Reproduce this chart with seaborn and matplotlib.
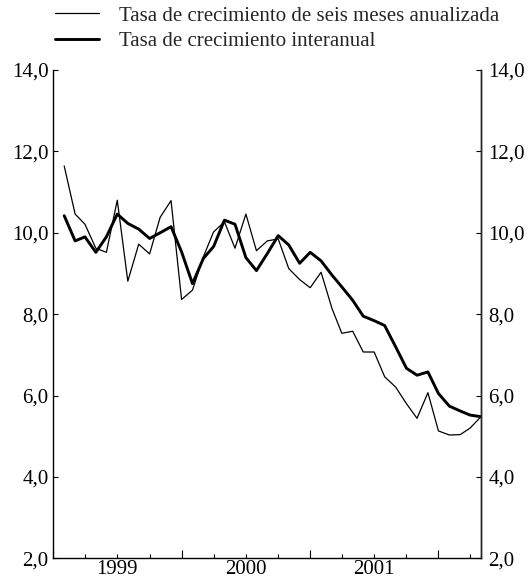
import numpy as np
import pandas as pd
import matplotlib
matplotlib.use("Agg")
import matplotlib.pyplot as plt
import matplotlib.dates as mdates
from matplotlib.ticker import FuncFormatter, FixedLocator, NullFormatter
from matplotlib.lines import Line2D
import seaborn as sns

# Monthly observations, January 1999 to April 2002
months = pd.date_range("1999-01-01", "2002-04-01", freq="MS")

# Six-month annualised growth rate (%)
six_month_annualised = [
    11.64, 10.46, 10.21, 9.62, 9.52, 10.80, 8.81, 9.72, 9.48, 10.38,
    10.79, 8.36, 8.59, 9.41, 10.02, 10.27, 9.62, 10.46, 9.56, 9.80,
    9.85, 9.12, 8.85, 8.65, 9.03, 8.14, 7.53, 7.58, 7.07, 7.07,
    6.46, 6.21, 5.80, 5.44, 6.07, 5.13, 5.03, 5.04, 5.20, 5.48,
]

# Year-on-year growth rate (%)
year_on_year = [
    10.42, 9.80, 9.90, 9.52, 9.90, 10.46, 10.23, 10.09, 9.86, 10.00,
    10.15, 9.53, 8.75, 9.37, 9.66, 10.31, 10.21, 9.39, 9.07, 9.49,
    9.93, 9.70, 9.25, 9.52, 9.31, 8.96, 8.67, 8.34, 7.95, 7.84,
    7.72, 7.20, 6.67, 6.50, 6.58, 6.05, 5.74, 5.62, 5.52, 5.48,
]

series_labels = [
    "Tasa de crecimiento de seis meses anualizada",
    "Tasa de crecimiento interanual",
]
y_ticks = [2, 4, 6, 8, 10, 12, 14]

df = pd.DataFrame({"fecha": months,
                   "seis": six_month_annualised,
                   "inter": year_on_year})

sns.set_style("ticks")
plt.rcParams["font.family"] = ["Liberation Serif", "DejaVu Serif"]
FS = 15
plt.rcParams["font.size"] = FS

fig = plt.figure(figsize=(5.3, 5.8), dpi=100)
ax = fig.add_axes([0.1006, 0.0374, 0.8069, 0.8419])

sns.lineplot(data=df, x="fecha", y="seis", ax=ax, color="black",
             linewidth=0.9, label=series_labels[0], legend=False)
sns.lineplot(data=df, x="fecha", y="inter", ax=ax, color="black",
             linewidth=2.1, label=series_labels[1], legend=False)

ax.set_xlim(pd.Timestamp("1998-12-01"), pd.Timestamp("2002-04-01"))
ax.set_ylim(2, 14)
ax.set_xlabel("")
ax.set_ylabel("")

for side in ("left", "right", "bottom"):
    ax.spines[side].set_visible(True)
    ax.spines[side].set_linewidth(1.0)
    ax.spines[side].set_color("black")
ax.spines["top"].set_visible(False)

fmt = FuncFormatter(lambda v, _: f"{v:.1f}".replace(".", ","))
ax.set_yticks(y_ticks)
ax.yaxis.set_major_formatter(fmt)
ax.tick_params(axis="y", direction="in", length=3.5, width=0.8,
               pad=3.5, labelsize=FS, colors="black")

# Right-hand scale mirrors the left one
ax2 = ax.twinx()
ax2.set_ylim(ax.get_ylim())
ax2.set_yticks(y_ticks)
ax2.yaxis.set_major_formatter(fmt)
ax2.tick_params(axis="y", direction="in", length=3.5, width=0.8,
                pad=5.5, labelsize=FS, colors="black")
for side in ("left", "top", "bottom"):
    ax2.spines[side].set_visible(False)
ax2.spines["right"].set_linewidth(1.0)

# Quarter ticks: tall at year end, short elsewhere, year label mid-year
year_ends = [pd.Timestamp(f"{y}-12-01") for y in (1998, 1999, 2000, 2001)]
quarters = [pd.Timestamp(f"{y}-{m:02d}-01") for y in (1999, 2000, 2001)
            for m in (3, 6, 9)] + [pd.Timestamp("2002-03-01")]
ax.xaxis.set_major_locator(FixedLocator(mdates.date2num(year_ends)))
ax.xaxis.set_major_formatter(NullFormatter())
ax.xaxis.set_minor_locator(FixedLocator(mdates.date2num(quarters)))
ax.xaxis.set_minor_formatter(FuncFormatter(
    lambda v, _: str(mdates.num2date(v).year) if mdates.num2date(v).month == 6 else ""))
ax.tick_params(axis="x", which="major", direction="in", length=5.5,
               width=0.8, colors="black")
ax.tick_params(axis="x", which="minor", direction="in", length=2.8,
               width=0.8, pad=1.5, labelsize=FS, colors="black")

handles = [Line2D([], [], color="black", linewidth=0.9),
           Line2D([], [], color="black", linewidth=2.1)]
fig.legend(handles, series_labels, loc="upper left",
           bbox_to_anchor=(55 / 530, 1 - 6 / 580), frameon=False,
           borderpad=0, borderaxespad=0, handlelength=2.1,
           handletextpad=0.95, labelspacing=0.3, fontsize=FS)

fig.savefig("out.png", dpi=100)
